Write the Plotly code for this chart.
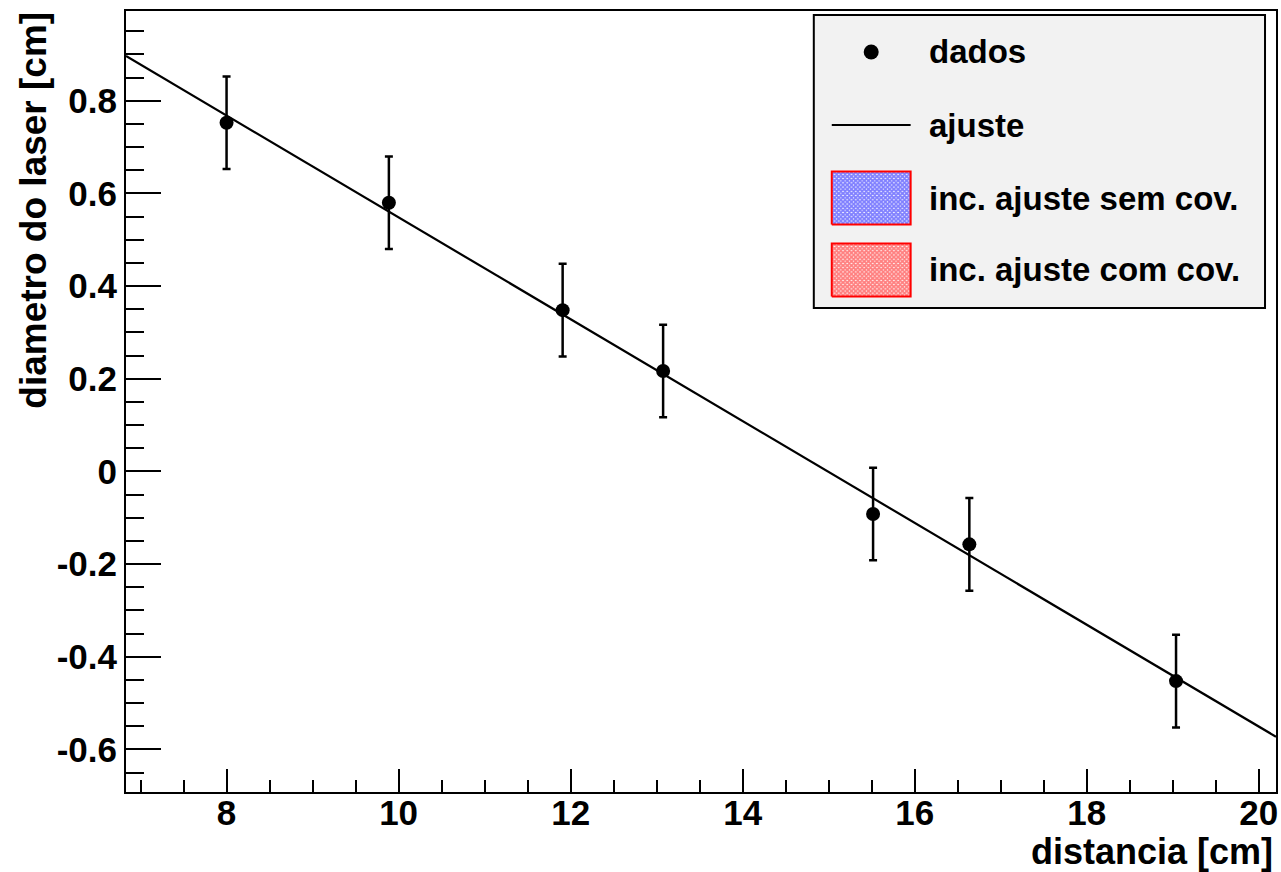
import plotly.graph_objects as go

# measured laser diameter vs distance
distancia = [8.0, 9.887, 11.907, 13.075, 15.516, 16.635, 19.038]
diametro = [0.7525, 0.5798, 0.348, 0.2166, -0.092, -0.1575, -0.4526]
erro_diametro = [0.1, 0.1, 0.1, 0.1, 0.1, 0.1, 0.1]

# linear fit parameters: d = a + b * x
fit_a = 1.6472
fit_b = -0.1099

x_range = [6.831, 20.20]
y_range = [-0.692, 0.9936]

x_tick_vals = [8, 10, 12, 14, 16, 18, 20]
x_tick_text = ["8", "10", "12", "14", "16", "18", "20"]
y_tick_vals = [-0.6, -0.4, -0.2, 0.0, 0.2, 0.4, 0.6, 0.8]
y_tick_text = ["-0.6", "-0.4", "-0.2", "0", "0.2", "0.4", "0.6", "0.8"]

legend_labels = ["dados", "ajuste", "inc. ajuste sem cov.", "inc. ajuste com cov."]

FONT = "Liberation Sans"
W, H = 1281, 872
ML, MR, MT, MB = 126, 3, 11, 80
PW, PH = W - ML - MR, H - MT - MB


def px(x):
    return (x - ML) / PW


def py(y):
    return (H - MB - y) / PH


fig = go.Figure()

# fit line across the whole x range
fit_y = [fit_a + fit_b * x for x in x_range]
fig.add_trace(go.Scatter(x=x_range, y=fit_y, mode="lines",
                         line=dict(color="black", width=2.2),
                         showlegend=False, hoverinfo="skip"))

# data points with error bars
fig.add_trace(go.Scatter(
    x=distancia, y=diametro, mode="markers",
    marker=dict(color="black", size=14),
    error_y=dict(type="data", array=erro_diametro, visible=True,
                 color="black", thickness=2.5, width=4),
    showlegend=False))

# legend box (drawn by hand in paper space on an overlay axis pair)
box_x0, box_x1 = px(815), px(1267)
box_y0, box_y1 = py(308), py(15)
fig.add_shape(type="rect", xref="paper", yref="paper",
              x0=box_x0, x1=box_x1, y0=box_y0, y1=box_y1,
              fillcolor="#f2f2f2", line=dict(color="black", width=2),
              layer="below")

row_y = [py(52), py(125), py(198), py(270)]
sym_x0, sym_x1 = px(833), px(912)
sym_xc = (sym_x0 + sym_x1) / 2
sw_h = (py(171) - py(224)) / 2

fig.add_trace(go.Scatter(x=[sym_xc], y=[row_y[0]], xaxis="x2", yaxis="y2",
                         mode="markers", marker=dict(color="black", size=15),
                         showlegend=False, hoverinfo="skip"))
fig.add_trace(go.Scatter(x=[sym_x0, sym_x1], y=[row_y[1], row_y[1]],
                         xaxis="x2", yaxis="y2", mode="lines",
                         line=dict(color="black", width=2),
                         showlegend=False, hoverinfo="skip"))

for yc, col in [(row_y[2], "blue"), (row_y[3], "red")]:
    fig.add_trace(go.Scatter(
        x=[sym_x0, sym_x1, sym_x1, sym_x0, sym_x0],
        y=[yc - sw_h, yc - sw_h, yc + sw_h, yc + sw_h, yc - sw_h],
        xaxis="x2", yaxis="y2", mode="lines", fill="toself",
        fillcolor="white",
        fillpattern=dict(shape="x", fgcolor=col, bgcolor="white",
                         size=3, solidity=0.85),
        line=dict(color="red", width=2),
        showlegend=False, hoverinfo="skip"))

for lab, yc in zip(legend_labels, row_y):
    fig.add_annotation(x=px(928), y=yc, xref="paper", yref="paper",
                       text=f"<b>{lab}</b>", showarrow=False,
                       xanchor="left", yanchor="middle",
                       font=dict(family=FONT, size=33, color="black"))

# axis titles
fig.add_annotation(x=px(1277), y=py(851), xref="paper", yref="paper",
                   text="<b>distancia [cm]</b>", showarrow=False,
                   xanchor="right", yanchor="middle",
                   font=dict(family=FONT, size=36, color="black"))
fig.add_annotation(x=px(33), y=py(10), xref="paper", yref="paper",
                   text="<b>diametro do laser [cm]</b>", showarrow=False,
                   textangle=-90, xanchor="center", yanchor="top",
                   font=dict(family=FONT, size=37, color="black"))

axis_common = dict(showgrid=False, zeroline=False, showline=True,
                   linecolor="black", linewidth=2, mirror=True,
                   ticks="inside", tickcolor="black", tickwidth=2)

fig.update_layout(
    width=W, height=H,
    margin=dict(l=ML, r=MR, t=MT, b=MB),
    paper_bgcolor="white", plot_bgcolor="white",
    showlegend=False,
    font=dict(family=FONT, color="black"),
    xaxis=dict(range=x_range, tickmode="array", tickvals=x_tick_vals,
               ticktext=[f"<b>{t}</b>" for t in x_tick_text],
               ticklen=23, tickfont=dict(size=35, family=FONT),
               ticklabelstandoff=-11,
               minor=dict(tickmode="linear", tick0=0, dtick=0.5,
                          ticks="inside", ticklen=12, tickwidth=2,
                          tickcolor="black"),
               **axis_common),
    yaxis=dict(range=y_range, tickmode="array", tickvals=y_tick_vals,
               ticktext=[f"<b>{t}</b>" for t in y_tick_text],
               ticklen=35, tickfont=dict(size=35, family=FONT),
               minor=dict(tickmode="linear", tick0=0, dtick=0.05,
                          ticks="inside", ticklen=18, tickwidth=2,
                          tickcolor="black"),
               **axis_common),
    xaxis2=dict(range=[0, 1], overlaying="x", visible=False, fixedrange=True),
    yaxis2=dict(range=[0, 1], overlaying="y", visible=False, fixedrange=True),
)

fig.write_html("out.html")
